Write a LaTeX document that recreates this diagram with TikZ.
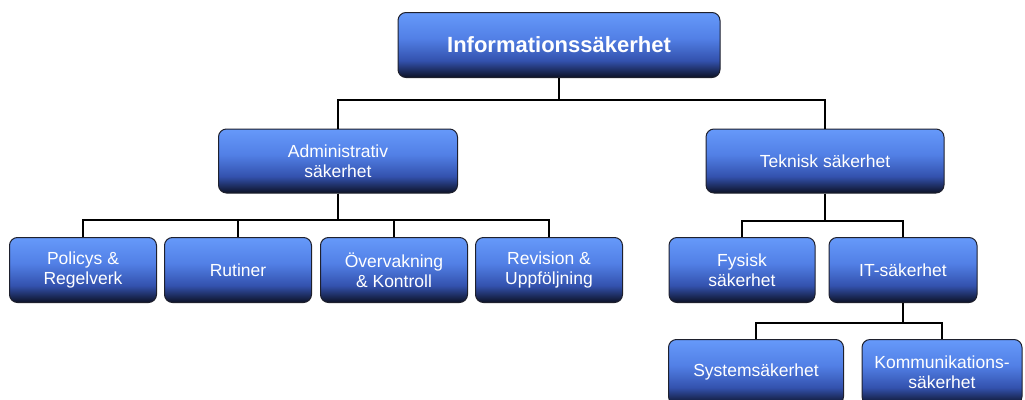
\documentclass[tikz,border=0pt]{standalone}
\usepackage{fontspec}
\setmainfont{Liberation Sans}
\definecolor{boxline}{RGB}{30,32,45}
\pgfdeclareverticalshading{boxshade}{100bp}{rgb(0bp)=(0.05,0.07,0.15); rgb(25bp)=(0.05,0.07,0.15);
    rgb(38bp)=(0.2,0.32,0.68); rgb(55bp)=(0.32,0.5,0.9); rgb(75bp)=(0.4,0.6,0.98); rgb(100bp)=(0.4,0.6,0.98)}
\begin{document}
\begin{tikzpicture}[x=1pt,y=-1pt,
    box/.style={draw=boxline,line width=1pt,rounded corners=8pt,shading=boxshade,
        text=white,align=center,font=\fontsize{17.5}{20}\selectfont,inner sep=0pt},
    link/.style={line width=2pt,black}]
                \useasboundingbox (0,0) rectangle (1025,399);
                \node[box,minimum width=322pt,minimum height=65pt,font=\fontsize{22}{24}\bfseries] (info) at (559,45) {Informationssäkerhet};
                \node[box,minimum width=239pt,minimum height=64pt] (adm) at (338,161) {Administrativ\\säkerhet};
                \node[box,minimum width=238pt,minimum height=64pt] (tek) at (825,161) {Teknisk säkerhet};
                \node[box,minimum width=147pt,minimum height=65pt] (pol) at (83,270) {Policys \&\\Regelverk};
                \node[box,minimum width=147pt,minimum height=65pt] (rut) at (238,270) {Rutiner};
                \node[box,minimum width=147pt,minimum height=65pt] (ove) at (394,270) {Övervakning\\\& Kontroll};
                \node[box,minimum width=147pt,minimum height=65pt] (rev) at (549,270) {Revision \&\\Uppföljning};
                \node[box,minimum width=146pt,minimum height=65pt] (fys) at (742,270) {Fysisk\\säkerhet};
                \node[box,minimum width=148pt,minimum height=65pt] (it) at (903,270) {IT-säkerhet};
                \node[box,minimum width=175pt,minimum height=65pt] (sys) at (756,372) {Systemsäkerhet};
                \node[box,minimum width=160pt,minimum height=65pt] (kom) at (942,372) {Kommunikations-\\säkerhet};
                \draw[link] (info.south) -- ++(0,22) -| (adm.north);
                \draw[link] (info.south) -- ++(0,22) -| (tek.north);
                \foreach \c in {pol,rut,ove,rev}
                    \draw[link] (adm.south) -- ++(0,26) -| (\c.north);
                \foreach \c in {fys,it}
                    \draw[link] (tek.south) -- ++(0,27) -| (\c.north);
                \foreach \c in {sys,kom}
                    \draw[link] (it.south) -- ++(0,20) -| (\c.north);
\end{tikzpicture}
\end{document}
